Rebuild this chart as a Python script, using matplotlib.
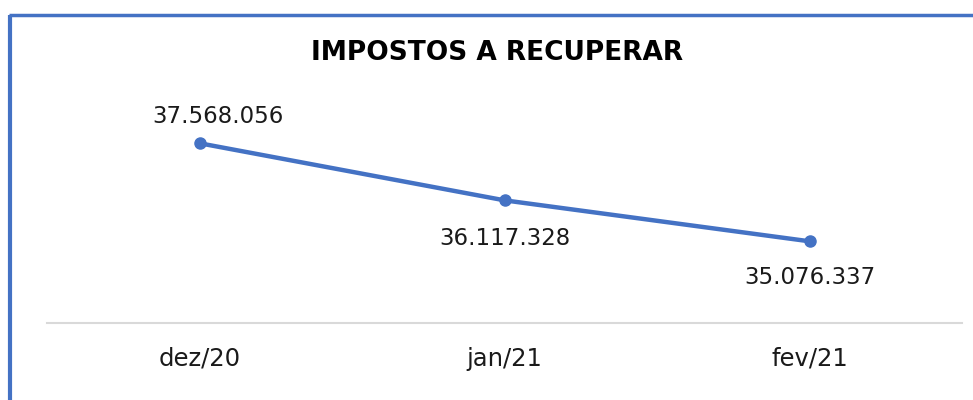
import matplotlib
matplotlib.use("Agg")
import matplotlib.pyplot as plt
from matplotlib.lines import Line2D

# dados do gráfico
categorias = ["dez/20", "jan/21", "fev/21"]
valores = [37568056, 36117328, 35076337]
rotulos = ["37.568.056", "36.117.328", "35.076.337"]
titulo = "IMPOSTOS A RECUPERAR"

azul = "#4472C4"
W, H = 973, 400

fig = plt.figure(figsize=(W / 100, H / 100), dpi=100)
fig.patch.set_facecolor("white")

# área de plotagem (em pixels convertidos para fração da figura)
left, right, bottom, top = 47, 962, 323, 100
ax = fig.add_axes([left / W, 1 - bottom / H, (right - left) / W, (bottom - top) / H])

x = list(range(len(categorias)))
ax.plot(x, valores, color=azul, linewidth=3.2, marker="o", markersize=8,
        solid_capstyle="round")

# escala: ~39.35 px por milhão, base em 33M
ymin = 33.0e6
ymax = ymin + (bottom - top) / 39.35 * 1e6
ax.set_ylim(ymin, ymax)
ax.set_xlim(-0.5, len(categorias) - 0.5)

# rótulos de dados
offsets = [(18, 27), (0, -38), (0, -36)]
for xi, v, txt, (dx, dy) in zip(x, valores, rotulos, offsets):
    ax.annotate(txt, (xi, v), xytext=(dx * 0.72, dy * 0.72), textcoords="offset points",
                ha="center", va="center", fontsize=16.5, color="#1a1a1a")

ax.set_xticks(x)
ax.set_xticklabels(categorias, fontsize=17.5, color="#1a1a1a")
ax.tick_params(axis="x", length=0, pad=17)
ax.set_yticks([])
for s in ["left", "right", "top"]:
    ax.spines[s].set_visible(False)
ax.spines["bottom"].set_color("#d9d9d9")
ax.spines["bottom"].set_linewidth(1.5)

fig.text(497 / W, 1 - 53 / H, titulo, ha="center", va="center",
         fontsize=19, fontweight="bold", color="black")

# borda azul (esquerda e topo)
fig.add_artist(Line2D([10 / W, 10 / W], [0, 1 - 14.5 / H], transform=fig.transFigure,
                      color=azul, linewidth=3, solid_capstyle="butt"))
fig.add_artist(Line2D([8.5 / W, 1], [1 - 14.5 / H, 1 - 14.5 / H], transform=fig.transFigure,
                      color=azul, linewidth=2.5, solid_capstyle="butt"))

fig.savefig("out.png", dpi=100, facecolor="white")
